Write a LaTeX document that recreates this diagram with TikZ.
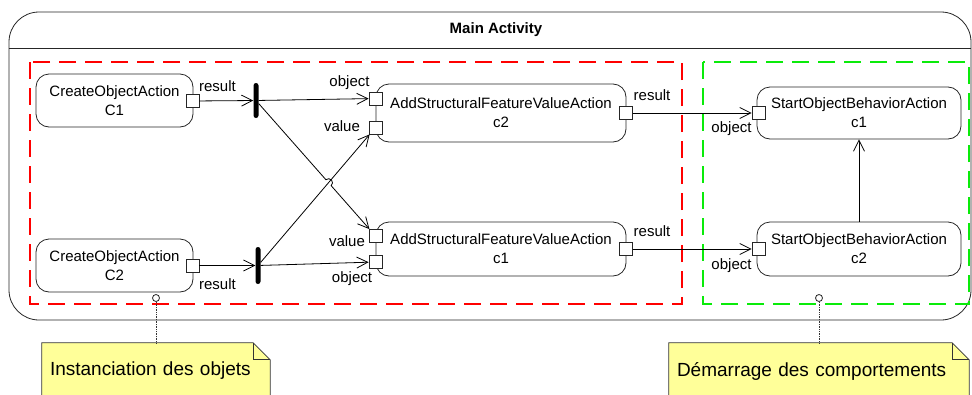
\documentclass[tikz,border=0pt]{standalone}
\usepackage{fontspec}
\setmainfont{Liberation Sans}
\usetikzlibrary{positioning}
\usetikzlibrary{backgrounds}
\usetikzlibrary{arrows.meta}

\definecolor{notefill}{RGB}{255,255,153}
\definecolor{zonegreen}{RGB}{10,235,10}

\tikzset{
  >={Straight Barb[length=11pt,width=11pt]},
  actbox/.style={draw=black!85, line width=0.8pt, rounded corners=13pt, align=center, inner sep=0pt, font=\fontsize{15}{19}\selectfont},
  portbox/.style={draw=black!85, fill=white, line width=0.8pt, minimum size=13pt, inner sep=0pt},
  forkbar/.style={fill=black, rounded corners=2.5pt, minimum width=5pt, inner sep=0pt},
  portlbl/.style={inner sep=0pt, font=\fontsize{15}{18}\selectfont},
  flowarr/.style={->, line width=0.8pt},
  zone/.style={line width=2.5pt, dash pattern=on 17pt off 9pt},
  notebox/.style={inner xsep=8pt, inner ysep=0pt, minimum height=56pt, align=left, font=\fontsize{19}{22}\selectfont},
  noteanchor/.style={circle, draw=black!85, fill=white, line width=0.8pt, minimum size=7pt, inner sep=0pt}
}

\begin{document}
\begin{tikzpicture}[x=1pt,y=-1pt]
\useasboundingbox (0,0) rectangle (972,394);

% activity frame
\draw[line width=0.8pt, draw=black!85, rounded corners=30pt] (9,12) rectangle (971,320);
\draw[line width=0.8pt, draw=black!85] (9,48) -- (971,48);
\node[font=\bfseries\fontsize{15}{18}\selectfont] (title) at (496,30) {Main Activity};

% partitions
\draw[zone, red] (30,62) rectangle (682,304);
\draw[zone, zonegreen] (703,62) rectangle (969,304);

% actions
\node[actbox, minimum width=157pt, minimum height=53pt] (coa1) at (114.5,100.5) {CreateObjectAction\\C1};
\node[actbox, minimum width=157pt, minimum height=53pt] (coa2) at (114.5,265.5) {CreateObjectAction\\C2};
\node[actbox, minimum width=250pt, minimum height=58pt] (asf2) at (501,113) {AddStructuralFeatureValueAction\\c2};
\node[actbox, minimum width=250pt, minimum height=54pt] (asf1) at (501,249) {AddStructuralFeatureValueAction\\c1};
\node[actbox, minimum width=204pt, minimum height=52pt] (sob1) at (859,113) {StartObjectBehaviorAction\\c1};
\node[actbox, minimum width=204pt, minimum height=54pt] (sob2) at (859,249) {StartObjectBehaviorAction\\c2};

% forks
\node[forkbar, minimum height=35pt] (fork1) at (256,100.5) {};
\node[forkbar, minimum height=37pt] (fork2) at (258,265.5) {};

% pins
\node[portbox] (coa1out) at (192.5,101) {};
\node[portbox] (coa2out) at (192.5,265.5) {};
\node[portbox] (asf2obj) at (375.5,98.5) {};
\node[portbox] (asf2val) at (375.5,127.5) {};
\node[portbox] (asf2res) at (626,113) {};
\node[portbox] (asf1val) at (375.5,236) {};
\node[portbox] (asf1obj) at (375.5,262) {};
\node[portbox] (asf1res) at (626,249) {};
\node[portbox] (sob1in) at (758.5,113) {};
\node[portbox] (sob2in) at (758.5,249) {};

% pin labels
\node[portlbl] (lcoa1) at (217.5,86) {result};
\node[portlbl] (lcoa2) at (217.5,284) {result};
\node[portlbl] (lasf2obj) at (349.5,83) {object};
\node[portlbl] (lasf2val) at (342,126) {value};
\node[portlbl] (lasf1val) at (347,241) {value};
\node[portlbl] (lasf1obj) at (352,279) {object};
\node[portlbl] (lasf2res) at (652,95) {result};
\node[portlbl] (lasf1res) at (652,231) {result};
\node[portlbl] (lsob1) at (731.5,129) {object};
\node[portlbl] (lsob2) at (731.5,266) {object};

% flows
\coordinate (hop) at (325.9,179.7);
\draw[flowarr] (coa1out) -- (fork1);
\draw[flowarr] (coa2out) -- (fork2);
\draw[flowarr] (fork1) -- (asf2obj);
\draw[flowarr] (fork1) -- (hop) arc[start angle=228.6, end angle=408.6, radius=4] -- (asf1val);
\draw[flowarr] (fork2) -- (asf2val);
\draw[flowarr] (fork2) -- (asf1obj);
\draw[flowarr] (asf2res) -- (sob1in);
\draw[flowarr] (asf1res) -- (sob2in);
\draw[flowarr] (sob2) -- (sob1);

% notes
\node[notebox, text width=212pt] (note1) at (156,371) {Instanciation des objets};
\node[notebox, text width=284pt] (note2) at (819,371) {Démarrage des comportements};
\begin{scope}[on background layer]
\foreach \n in {note1,note2}
  \draw[fill=notefill, draw=black!80, line width=0.8pt] (\n.south west) -- (\n.north west) -- ([xshift=-17pt]\n.north east) -- ([yshift=-17pt]\n.north east) -- (\n.south east) -- cycle;
\end{scope}
\foreach \n in {note1,note2}
  \draw[draw=black!80, line width=0.8pt] ([xshift=-17pt]\n.north east) -- ([xshift=-17pt,yshift=-17pt]\n.north east) -- ([yshift=-17pt]\n.north east);

\node[noteanchor] (anc1) at (156,298) {};
\node[noteanchor] (anc2) at (819,298) {};
\draw[densely dotted, line width=0.7pt, black!80] (anc1) -- (note1);
\draw[densely dotted, line width=0.7pt, black!80] (anc2) -- (note2);
\end{tikzpicture}
\end{document}
